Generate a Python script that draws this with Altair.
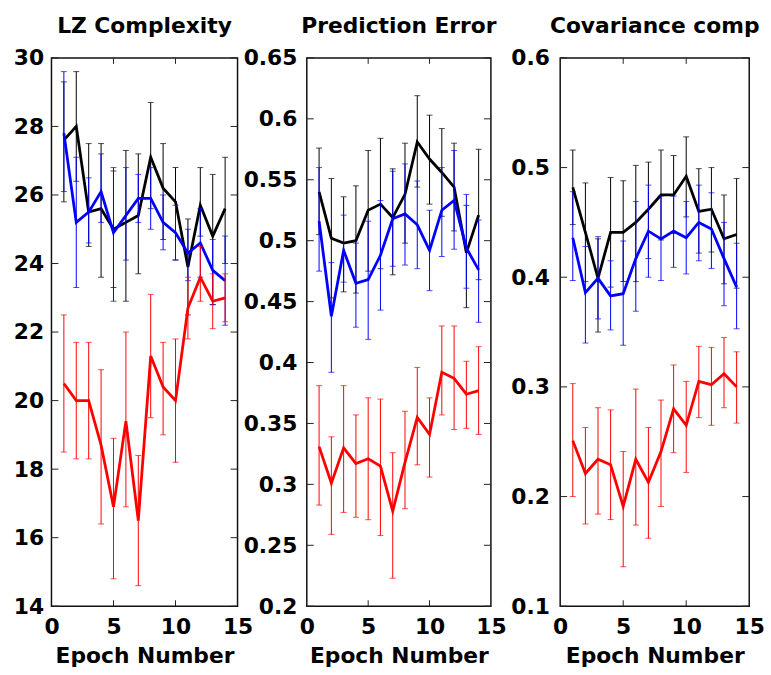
import altair as alt
import pandas as pd

epochs = list(range(1, 15))

# LZ Complexity
lz_black_mean = [27.6, 28.0, 25.5, 25.6, 25.0, 25.2, 25.4, 27.1, 26.2, 25.8, 23.9, 25.7, 24.8, 25.6]
lz_black_lo = [25.8, 26.4, 24.5, 23.6, 23.3, 22.9, 23.7, 25.6, 24.7, 24.1, 22.5, 24.8, 22.8, 24.0]
lz_black_hi = [29.3, 29.6, 27.5, 27.5, 26.7, 27.3, 27.2, 28.7, 27.5, 26.8, 25.3, 26.8, 26.6, 27.1]
lz_blue_mean = [27.8, 25.2, 25.5, 26.1, 24.9, 25.4, 25.9, 25.9, 25.2, 24.9, 24.3, 24.6, 23.8, 23.5]
lz_blue_lo = [26.1, 23.3, 24.6, 25.2, 22.9, 24.1, 25.2, 25.0, 24.4, 24.1, 23.5, 23.6, 22.8, 22.2]
lz_blue_hi = [29.6, 27.1, 26.5, 27.2, 26.8, 26.8, 26.6, 26.8, 26.0, 25.7, 25.0, 25.6, 24.7, 24.8]
lz_red_mean = [20.5, 20.0, 20.0, 18.7, 16.9, 19.4, 16.5, 21.3, 20.4, 20.0, 22.7, 23.6, 22.9, 23.0]
lz_red_lo = [18.5, 18.3, 18.3, 16.4, 14.8, 16.9, 14.6, 19.5, 19.0, 18.2, 21.8, 22.9, 22.1, 22.3]
lz_red_hi = [22.5, 21.7, 21.7, 20.9, 18.9, 22.0, 18.4, 23.1, 21.7, 21.8, 23.6, 24.5, 23.7, 23.7]

# Prediction Error
pe_black_mean = [0.540, 0.502, 0.498, 0.500, 0.525, 0.530, 0.519, 0.538, 0.581, 0.567, 0.556, 0.544, 0.490, 0.521]
pe_black_lo = [0.505, 0.453, 0.458, 0.457, 0.475, 0.477, 0.472, 0.498, 0.544, 0.530, 0.520, 0.508, 0.445, 0.468]
pe_black_hi = [0.576, 0.551, 0.536, 0.545, 0.574, 0.584, 0.559, 0.580, 0.619, 0.603, 0.592, 0.580, 0.529, 0.575]
pe_blue_mean = [0.516, 0.438, 0.492, 0.465, 0.468, 0.488, 0.518, 0.522, 0.513, 0.492, 0.525, 0.533, 0.494, 0.476]
pe_blue_lo = [0.475, 0.392, 0.466, 0.429, 0.419, 0.443, 0.479, 0.480, 0.477, 0.459, 0.487, 0.493, 0.461, 0.433]
pe_blue_hi = [0.560, 0.482, 0.521, 0.498, 0.516, 0.533, 0.557, 0.563, 0.549, 0.525, 0.560, 0.574, 0.538, 0.517]
pe_red_mean = [0.331, 0.301, 0.330, 0.317, 0.321, 0.315, 0.278, 0.318, 0.355, 0.341, 0.392, 0.387, 0.374, 0.377]
pe_red_lo = [0.283, 0.259, 0.277, 0.273, 0.271, 0.258, 0.223, 0.280, 0.316, 0.306, 0.357, 0.345, 0.346, 0.341]
pe_red_hi = [0.381, 0.339, 0.381, 0.357, 0.371, 0.370, 0.326, 0.360, 0.396, 0.371, 0.430, 0.430, 0.401, 0.413]

# Covariance comp
cc_black_mean = [0.482, 0.441, 0.399, 0.441, 0.441, 0.450, 0.462, 0.475, 0.475, 0.492, 0.460, 0.462, 0.435, 0.439]
cc_black_lo = [0.448, 0.396, 0.350, 0.391, 0.396, 0.396, 0.417, 0.434, 0.440, 0.455, 0.422, 0.423, 0.394, 0.390]
cc_black_hi = [0.516, 0.486, 0.435, 0.491, 0.488, 0.502, 0.505, 0.516, 0.511, 0.528, 0.499, 0.500, 0.475, 0.490]
cc_blue_mean = [0.436, 0.386, 0.399, 0.383, 0.385, 0.417, 0.442, 0.435, 0.442, 0.436, 0.450, 0.444, 0.417, 0.391]
cc_blue_lo = [0.397, 0.340, 0.362, 0.352, 0.338, 0.369, 0.400, 0.397, 0.409, 0.403, 0.415, 0.408, 0.374, 0.353]
cc_blue_hi = [0.478, 0.428, 0.437, 0.415, 0.433, 0.469, 0.484, 0.474, 0.474, 0.469, 0.484, 0.477, 0.450, 0.431]
cc_red_mean = [0.251, 0.221, 0.234, 0.229, 0.191, 0.234, 0.213, 0.241, 0.280, 0.265, 0.305, 0.302, 0.312, 0.300]
cc_red_lo = [0.200, 0.175, 0.184, 0.179, 0.136, 0.174, 0.162, 0.191, 0.240, 0.222, 0.272, 0.265, 0.281, 0.267]
cc_red_hi = [0.303, 0.263, 0.281, 0.279, 0.241, 0.298, 0.263, 0.288, 0.320, 0.305, 0.337, 0.336, 0.345, 0.332]

lz_yticks = [14, 16, 18, 20, 22, 24, 26, 28, 30]
pe_yticks = [0.2, 0.25, 0.3, 0.35, 0.4, 0.45, 0.5, 0.55, 0.6, 0.65]
cc_yticks = [0.1, 0.2, 0.3, 0.4, 0.5, 0.6]
x_ticks = [0, 5, 10, 15]

FONT = "DejaVu Sans"
HEIGHT = 554
SERIES_COLORS = ["#000000", "#0000ff", "#ff0000"]


def panel(title, series, ydomain, yticks, yfmt, width, lab_pad):
    xscale = alt.Scale(domain=[0, 15], nice=False, zero=False)
    yscale = alt.Scale(domain=ydomain, nice=False, zero=False)
    xaxis = alt.Axis(values=x_ticks, title="Epoch Number", labelFlush=False, ticks=False,
                     tickSize=0, domain=False, grid=False, labelPadding=10.5, titlePadding=8.5,
                     format="d")
    yaxis = alt.Axis(values=yticks, title=None, ticks=False, tickSize=0, domain=False,
                     grid=False, labelPadding=lab_pad, format=yfmt)

    def X(field="x"):
        return alt.X(f"{field}:Q", scale=xscale, axis=xaxis)

    def Y(field="y"):
        return alt.Y(f"{field}:Q", scale=yscale, axis=yaxis)

    layers = []
    ytdf = pd.DataFrame({"y": yticks})
    xtdf = pd.DataFrame({"x": x_ticks[1:-1]})
    tick_color = "#222222"
    layers.append(alt.Chart(ytdf).mark_rule(color=tick_color, strokeWidth=1).encode(
        y=Y(), x=alt.value(0), x2=alt.value(7)))
    layers.append(alt.Chart(ytdf).mark_rule(color=tick_color, strokeWidth=1).encode(
        y=Y(), x=alt.value(width - 7), x2=alt.value(width)))
    layers.append(alt.Chart(xtdf).mark_rule(color=tick_color, strokeWidth=1).encode(
        x=X(), y=alt.value(HEIGHT - 6), y2=alt.value(HEIGHT)))
    layers.append(alt.Chart(xtdf).mark_rule(color=tick_color, strokeWidth=1).encode(
        x=X(), y=alt.value(0), y2=alt.value(6)))

    for (means, los, his), color in zip(series, SERIES_COLORS):
        df = pd.DataFrame({"x": epochs, "y": means, "lo": los, "hi": his})
        caps = pd.DataFrame({"x": epochs + epochs, "y": los + his})
        layers.append(alt.Chart(df).mark_rule(color=color, strokeWidth=1).encode(
            x=X(), y=Y("lo"), y2="hi:Q"))
        layers.append(alt.Chart(caps).mark_tick(color=color, orient="horizontal", size=6,
                                                thickness=1).encode(x=X(), y=Y()))
        layers.append(alt.Chart(df).mark_line(color=color, strokeWidth=2.8).encode(
            x=X(), y=Y()))

    return alt.layer(*layers).properties(
        width=width, height=HEIGHT,
        title=alt.TitleParams(text=title, font=FONT, fontSize=22, fontWeight="bold",
                              frame="group", baseline="alphabetic", offset=-8,
                              anchor="middle", color="black"))


p1 = panel("LZ Complexity",
           [(lz_black_mean, lz_black_lo, lz_black_hi),
            (lz_blue_mean, lz_blue_lo, lz_blue_hi),
            (lz_red_mean, lz_red_lo, lz_red_hi)],
           [14, 30], lz_yticks, "d", 188, 8)
p2 = panel("Prediction Error",
           [(pe_black_mean, pe_black_lo, pe_black_hi),
            (pe_blue_mean, pe_blue_lo, pe_blue_hi),
            (pe_red_mean, pe_red_lo, pe_red_hi)],
           [0.2, 0.65], pe_yticks, ".2~f", 186, 10)
p3 = panel("Covariance comp",
           [(cc_black_mean, cc_black_lo, cc_black_hi),
            (cc_blue_mean, cc_blue_lo, cc_blue_hi),
            (cc_red_mean, cc_red_lo, cc_red_hi)],
           [0.1, 0.6], cc_yticks, ".1f", 191, 11)

chart = alt.hconcat(p1, p2, p3, spacing=70, bounds="flush").properties(
    padding={"left": 12, "top": 11, "right": 5, "bottom": 5},
    background="white",
).configure_axis(
    labelFont=FONT, labelFontSize=22, labelFontWeight="bold", labelColor="black",
    titleFont=FONT, titleFontSize=22, titleFontWeight="bold", titleColor="black",
).configure_view(stroke="#111111", strokeWidth=1.5)

chart.save("out.html", embed_options={"renderer": "svg", "actions": False})
